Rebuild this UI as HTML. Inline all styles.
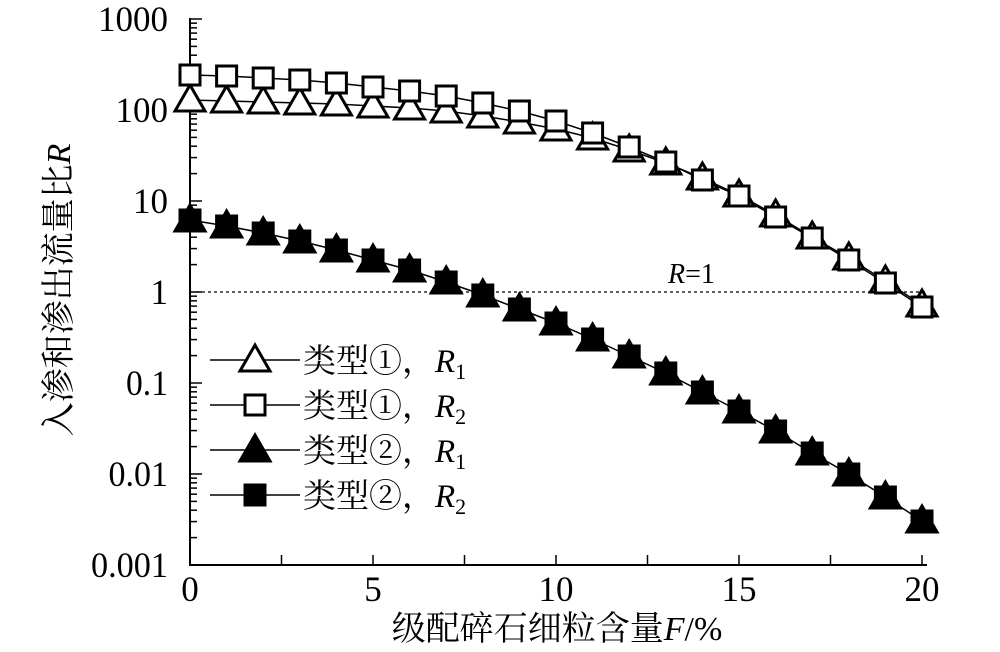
<!DOCTYPE html>
<html><head><meta charset="utf-8"><style>
body{margin:0;background:#fff}
svg text{font-family:"Liberation Serif","Noto Serif CJK SC",serif;fill:#000}
</style></head><body>
<svg width="1000" height="647" viewBox="0 0 1000 647" xmlns="http://www.w3.org/2000/svg" id="s">
</svg>
<script>
const s=document.getElementById('s');let h='';
const X=f=>190+f*36.6, Y0=19, D=91;
const Yv=v=>Y0+(3-Math.log10(v))*D;
h+=`<line x1="190" y1="18" x2="190" y2="566" stroke="#000" stroke-width="2"/>`;
h+=`<line x1="189" y1="565" x2="927" y2="565" stroke="#000" stroke-width="2"/>`;
for(let e=-3;e<3;e++){for(let m=1;m<10;m++){const y=Yv(m*Math.pow(10,e));h+=`<line x1="190" y1="${y}" x2="${m==1?202:197}" y2="${y}" stroke="#000" stroke-width="1.5"/>`;}}
h+=`<line x1="190" y1="19" x2="202" y2="19" stroke="#000" stroke-width="1.5"/>`;
const lab=['0.001','0.01','0.1','1','10','100','1000'];
lab.forEach((t,i)=>{const w=t.replace('.','').length*17.5+(t.includes('.')?7:0);h+=`<text x="168" y="${565-i*D+12}" font-size="36" text-anchor="end" textLength="${w}" lengthAdjust="spacingAndGlyphs">${t}</text>`});
for(let f=0;f<=20;f+=2.5){const x=X(f);h+=`<line x1="${x}" y1="565" x2="${x}" y2="555" stroke="#000" stroke-width="1.5"/>`;}
for(let f=0;f<=20;f+=5){const t=String(f);h+=`<text x="${X(f)}" y="601" font-size="36" text-anchor="middle" textLength="${t.length*17.5}" lengthAdjust="spacingAndGlyphs">${t}</text>`}
h+=`<line x1="190" y1="292" x2="925" y2="292" stroke="#000" stroke-width="1.3" stroke-dasharray="3,3"/>`;
h+=`<text x="668" y="283" font-size="28"><tspan font-style="italic">R</tspan>=1</text>`;
const sq=[75,76,78,80,83,87,91,96,103,111,121,133,147,162,180,196,217,238,260,283,307];
const tr=[100,101,102,103,104,106,108,111,116,122,129,138,150,163,178,195,215,237,258,281,305];
const fl=[220,226,233,241,250,260,270,282,295,309,323,339,356,373,392,411,431,453,474,497,521];
const line=a=>`<polyline fill="none" stroke="#000" stroke-width="1.5" points="${a.map((y,i)=>X(i)+','+y).join(' ')}"/>`;
const tri=(x,y,f)=>`<polygon points="${x},${y-15} ${x-15},${y+11} ${x+15},${y+11}" fill="${f?'#000':'#fff'}" stroke="#000" stroke-width="3"/>`;
const sqr=(x,y,f)=>`<rect x="${x-10}" y="${y-10}" width="20" height="20" fill="${f?'#000':'#fff'}" stroke="#000" stroke-width="3"/>`;
h+=line(tr)+line(sq)+line(fl);
tr.forEach((y,i)=>h+=tri(X(i),y,0));
sq.forEach((y,i)=>h+=sqr(X(i),y,0));
fl.forEach((y,i)=>h+=sqr(X(i),y,1));
fl.forEach((y,i)=>h+=tri(X(i),y,1));
const L=[[360,tri,0,'①','1'],[405,sqr,0,'①','2'],[450,tri,1,'②','1'],[495,sqr,1,'②','2']];
L.forEach(([y,fn,f,c,n])=>{h+=`<line x1="210" y1="${y}" x2="300" y2="${y}" stroke="#000" stroke-width="1.5"/>`+fn(255,y,f);
h+=`<text x="303" y="${y+12}" font-size="33">类型${c}，<tspan font-style="italic">R</tspan><tspan font-size="22" dy="7">${n}</tspan></text>`;});
h+=`<text x="557" y="640" font-size="34" text-anchor="middle">级配碎石细粒含量<tspan font-style="italic">F</tspan>/%</text>`;
h+=`<text transform="translate(70,290) rotate(-90)" font-size="34" text-anchor="middle">入渗和渗出流量比<tspan font-style="italic">R</tspan></text>`;
s.innerHTML=h;
</script>
</body></html>
